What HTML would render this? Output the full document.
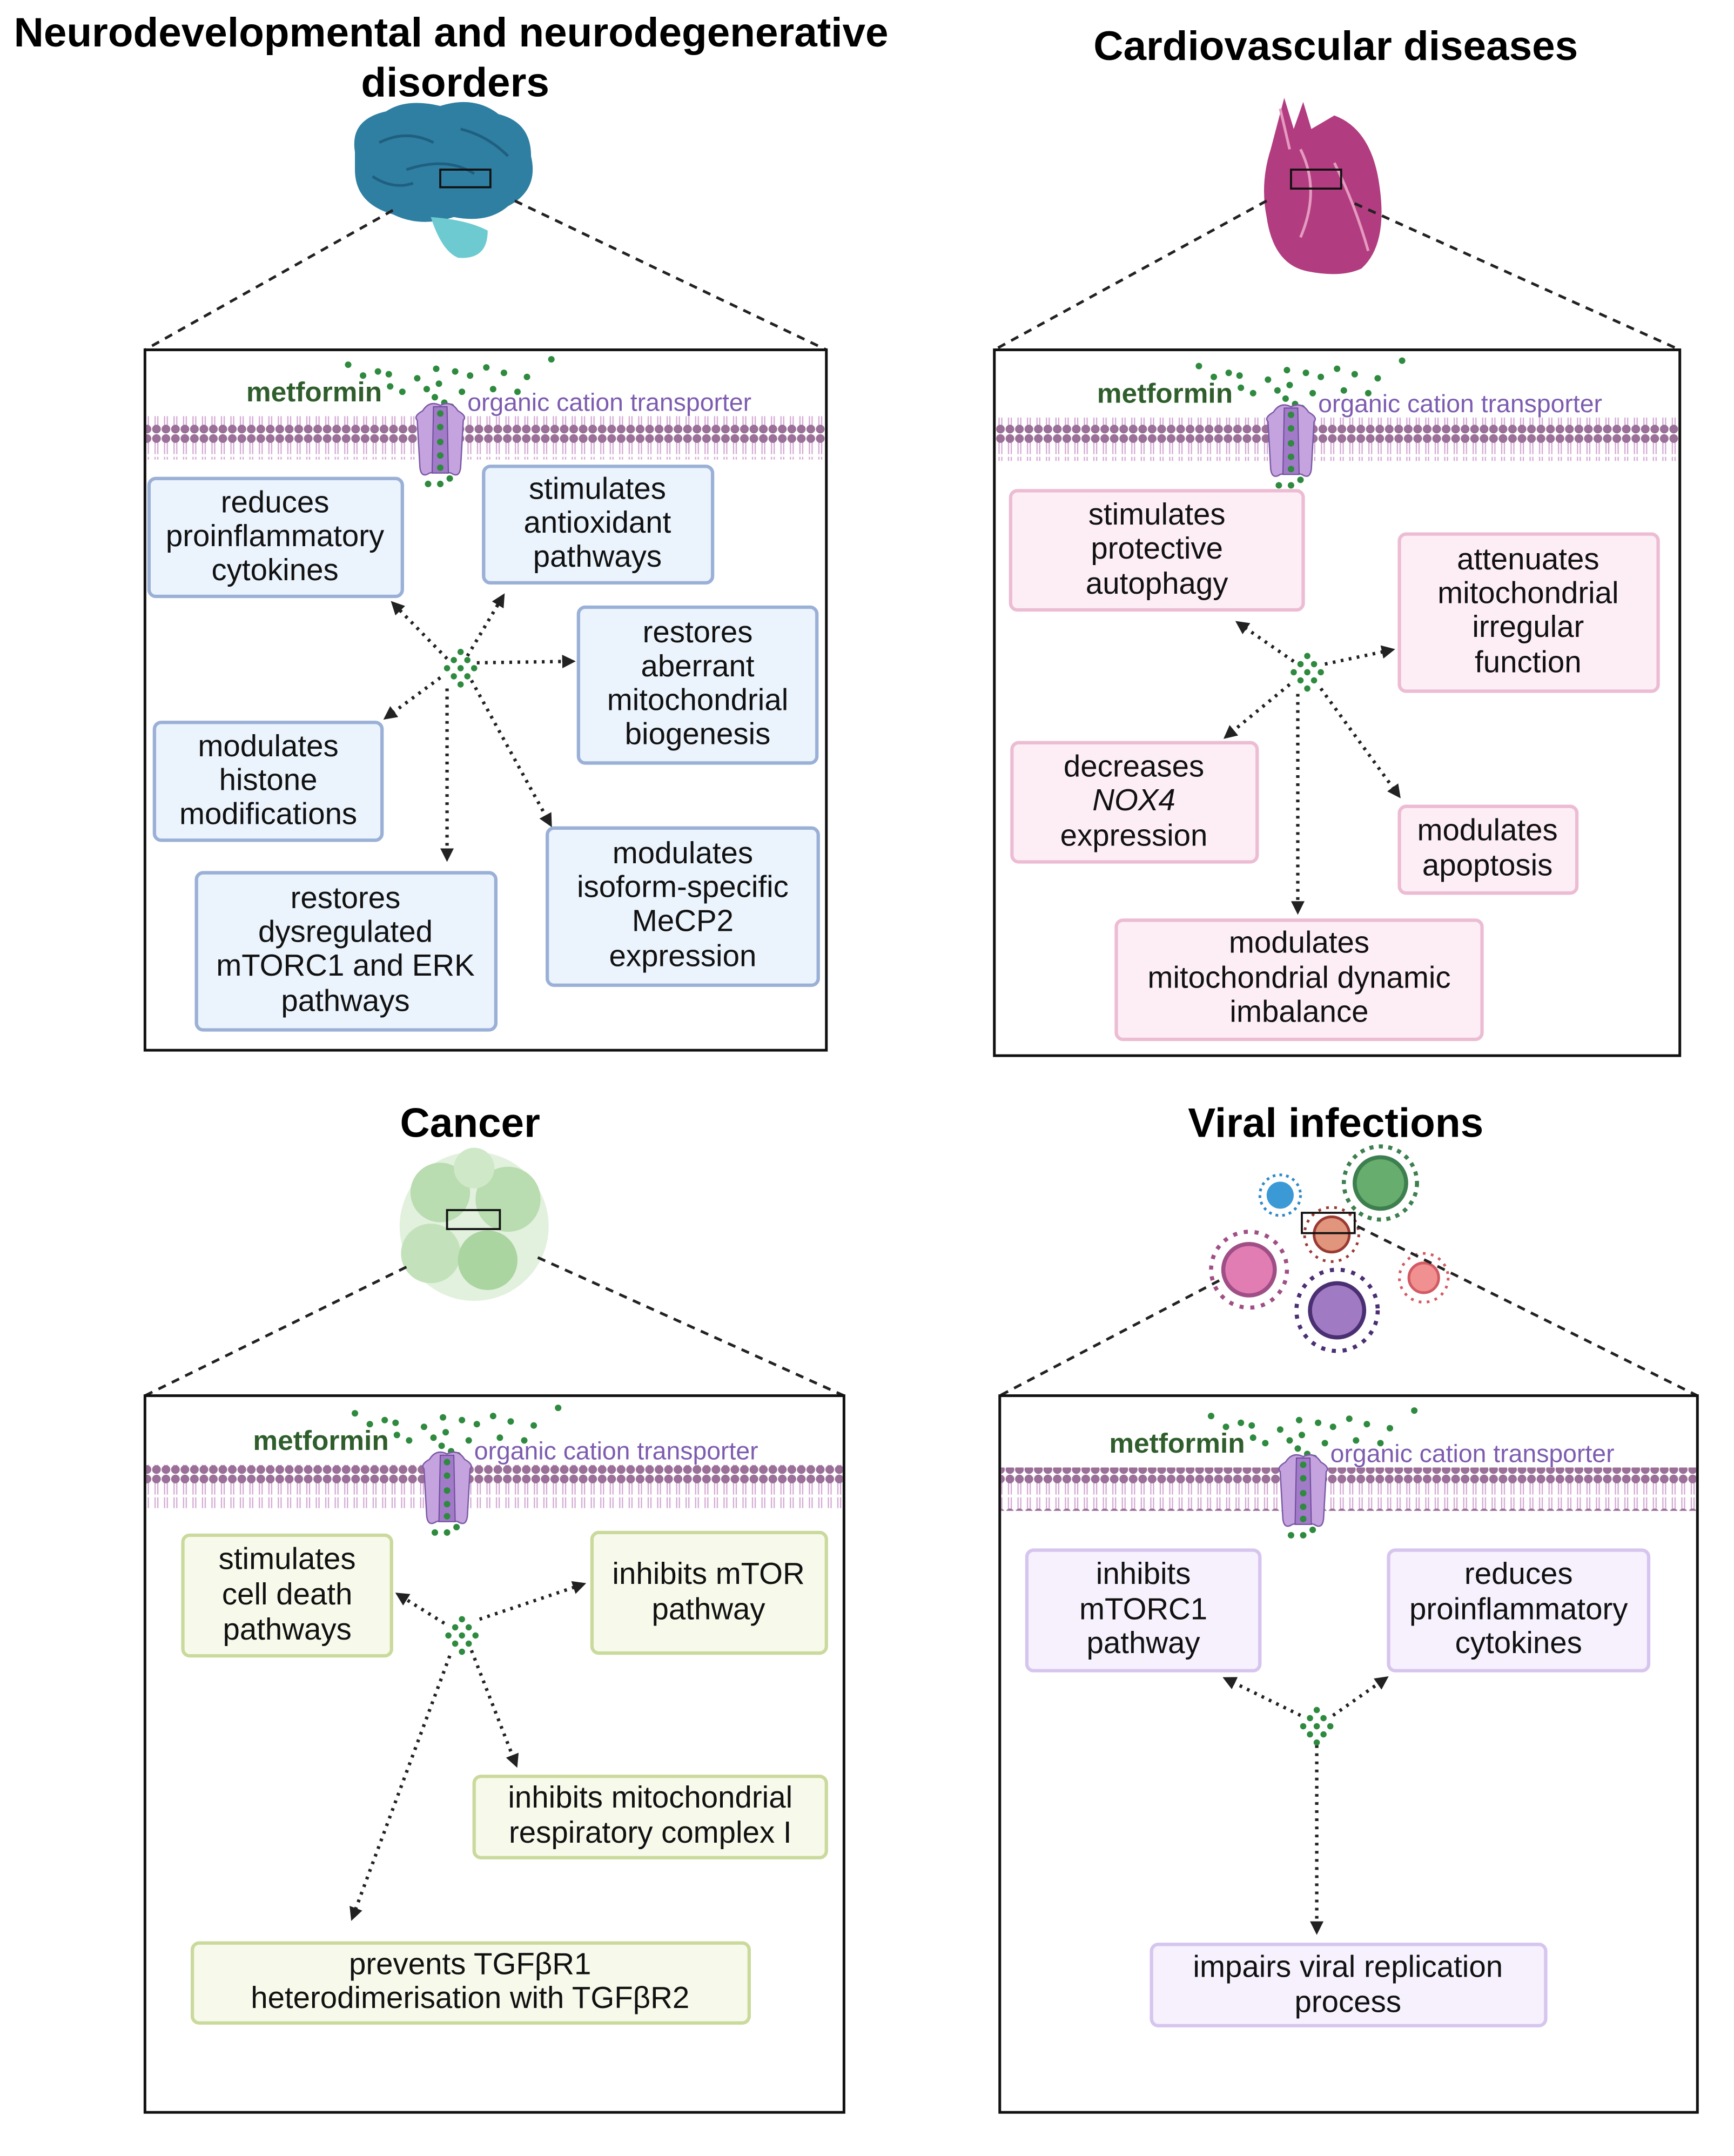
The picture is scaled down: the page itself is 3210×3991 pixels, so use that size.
<!DOCTYPE html>
<html><head><meta charset="utf-8"><style>html,body{margin:0;padding:0;background:#fff}svg{display:block}</style></head>
<body>
<svg xmlns="http://www.w3.org/2000/svg" width="3210" height="3991" viewBox="0 0 1280 1591" font-family="Liberation Sans, sans-serif">
<defs>
<pattern id="mem" x="0" y="0" width="7" height="32" patternUnits="userSpaceOnUse">
<line x1="2.5" y1="4" x2="2.5" y2="15" stroke="#d3a8d3" stroke-width="0.9"/>
<line x1="4.5" y1="4" x2="4.5" y2="15" stroke="#d3a8d3" stroke-width="0.9"/>
<line x1="2.5" y1="17" x2="2.5" y2="28" stroke="#d3a8d3" stroke-width="0.9"/>
<line x1="4.5" y1="17" x2="4.5" y2="28" stroke="#d3a8d3" stroke-width="0.9"/>
<circle cx="3.5" cy="3.5" r="3.2" fill="#9a6f98"/>
<circle cx="3.5" cy="28.5" r="3.2" fill="#9a6f98"/>
</pattern>
<marker id="ah" markerWidth="10" markerHeight="10" refX="5" refY="5" orient="auto" markerUnits="userSpaceOnUse">
<path d="M0,0 L10,5 L0,10 z" fill="#222"/>
</marker>
<g id="hdr">
<text x="-43" y="-11" text-anchor="end" font-size="20.5" font-weight="bold" fill="#2f5e2c">metformin</text>
<text x="20" y="-4" font-size="18.5" fill="#7d5cb0">organic cation transporter</text>
<g fill="#2e8a3e">
<circle cx="-68" cy="-38" r="2.4"/><circle cx="-57" cy="-30" r="2.4"/><circle cx="-46" cy="-33" r="2.4"/><circle cx="-38" cy="-31" r="2.4"/>
<circle cx="-37" cy="-22" r="2.4"/><circle cx="-28" cy="-18" r="2.4"/><circle cx="-17" cy="-28" r="2.4"/><circle cx="-10" cy="-20" r="2.4"/>
<circle cx="-3" cy="-35" r="2.4"/><circle cx="-1" cy="-24" r="2.4"/><circle cx="-4" cy="-14" r="2.4"/><circle cx="3" cy="-10" r="2.4"/>
<circle cx="8" cy="-7" r="2.4"/><circle cx="-8" cy="-1" r="2.4"/><circle cx="11" cy="-33" r="2.4"/><circle cx="22" cy="-30" r="2.4"/>
<circle cx="16" cy="-18" r="2.4"/><circle cx="34" cy="-36" r="2.4"/><circle cx="39" cy="-20" r="2.4"/><circle cx="47" cy="-32" r="2.4"/>
<circle cx="57" cy="-18" r="2.4"/><circle cx="64" cy="-29" r="2.4"/><circle cx="82" cy="-42" r="2.4"/><circle cx="-9" cy="50" r="2.4"/><circle cx="0" cy="50" r="2.4"/><circle cx="7" cy="46" r="2.4"/>
</g>
<path d="M-13,-4 Q-8,-12 0,-8 Q8,-12 13,-4 Q20,0 17,3 L15,38 Q14,46 8,42 Q0,40 -8,42 Q-14,46 -15,38 L-17,3 Q-20,0 -13,-4 z" fill="#c4a3df" stroke="#7c5aa6" stroke-width="1"/>
<path d="M-5,-7 L5,-7 L6,42 L-6,42 z" fill="#a17ac8" stroke="#6f4c9a" stroke-width="0.8"/>
<g fill="#2e8a3e"><circle cx="0" cy="-2" r="2.4"/><circle cx="0" cy="8" r="2.4"/><circle cx="0" cy="19" r="2.4"/><circle cx="0" cy="29" r="2.4"/><circle cx="0" cy="38" r="2.4"/></g>
</g>
<g id="dots" fill="#2e8a3e">
<circle cx="0" cy="-12" r="2.3"/><circle cx="-5" cy="-6" r="2.3"/><circle cx="5" cy="-6" r="2.3"/><circle cx="-10" cy="0" r="2.3"/><circle cx="0" cy="0" r="2.3"/><circle cx="10" cy="0" r="2.3"/><circle cx="-5" cy="6" r="2.3"/><circle cx="5" cy="6" r="2.3"/><circle cx="0" cy="12" r="2.3"/>
</g>
</defs>
<rect width="1280" height="1591" fill="#fff"/>

<g font-weight="bold" font-size="30.5" text-anchor="middle" fill="#000">
<text x="333" y="34">Neurodevelopmental and neurodegenerative</text>
<text x="336" y="71">disorders</text>
<text x="986" y="44">Cardiovascular diseases</text>
<text x="347" y="839">Cancer</text>
<text x="986" y="839">Viral infections</text>
</g>

<g>
<path d="M262,112 Q258,88 285,82 Q300,72 325,78 Q350,70 368,84 Q392,90 392,115 Q398,140 375,152 Q360,165 335,160 Q310,168 290,158 Q262,150 262,125 z" fill="#2f7fa2"/>
<path d="M318,160 Q345,162 360,170 Q360,192 338,190 Q326,185 318,160z" fill="#6ccad0"/>
<path d="M280,105 Q300,95 320,105 M300,125 Q330,115 350,128 M340,95 Q360,100 375,115 M275,130 Q290,140 305,135" stroke="#1f5f80" stroke-width="2" fill="none"/>
<rect x="325" y="125" width="37" height="13" fill="none" stroke="#111" stroke-width="1.5"/>
</g>
<g>
<path d="M948,72 L955,95 L962,75 L968,95 L985,85 Q1012,95 1018,135 Q1025,180 1005,198 Q990,205 965,200 Q940,195 935,160 Q930,135 938,110 Z" fill="#b23c80"/>
<path d="M945,80 L952,110 M960,110 Q975,140 960,175 M985,120 Q1000,150 1010,185" stroke="#e59ac0" stroke-width="2" fill="none"/>
<rect x="953" y="125" width="37" height="14" fill="none" stroke="#111" stroke-width="1.5"/>
</g>
<g>
<circle cx="350" cy="905" r="55" fill="#e2f1dd"/>
<circle cx="325" cy="880" r="22" fill="#b9dcb0"/><circle cx="375" cy="885" r="24" fill="#b9dcb0"/><circle cx="318" cy="925" r="22" fill="#c3e2bb"/><circle cx="360" cy="930" r="22" fill="#aad4a0"/><circle cx="350" cy="862" r="15" fill="#cfe8c8"/>
<rect x="330" y="893" width="39" height="14" fill="none" stroke="#111" stroke-width="1.5"/>
</g>
<g>
<circle cx="945" cy="882" r="15" fill="none" stroke="#2e8ac6" stroke-width="2" stroke-dasharray="2 3"/><circle cx="945" cy="882" r="10" fill="#3b9ad6"/>
<circle cx="1019" cy="873" r="27" fill="none" stroke="#3d7f4e" stroke-width="3" stroke-dasharray="3 4"/><circle cx="1019" cy="873" r="19" fill="#66ad6e" stroke="#3d7f4e" stroke-width="3"/>
<circle cx="983" cy="911" r="20" fill="none" stroke="#9a3a33" stroke-width="2" stroke-dasharray="2 4"/><circle cx="983" cy="911" r="13" fill="#e0957c" stroke="#9a3a33" stroke-width="2"/>
<circle cx="922" cy="937" r="28" fill="none" stroke="#a04f86" stroke-width="3" stroke-dasharray="3 5"/><circle cx="922" cy="937" r="19" fill="#e27db3" stroke="#a04f86" stroke-width="3"/>
<circle cx="987" cy="967" r="30" fill="none" stroke="#4a2f73" stroke-width="3" stroke-dasharray="3 5"/><circle cx="987" cy="967" r="20" fill="#a07bc4" stroke="#4a2f73" stroke-width="3"/>
<circle cx="1051" cy="943" r="18" fill="none" stroke="#d25a62" stroke-width="2" stroke-dasharray="2 4"/><circle cx="1051" cy="943" r="11" fill="#f09090" stroke="#d25a62" stroke-width="2"/>
<rect x="961" y="895" width="39" height="15" fill="none" stroke="#111" stroke-width="1.5"/>
</g>

<g stroke="#222" stroke-width="2" stroke-dasharray="6 5" fill="none">
<line x1="290" y1="155" x2="107" y2="258"/><line x1="380" y1="148" x2="610" y2="258"/>
<line x1="935" y1="148" x2="734" y2="258"/><line x1="1000" y1="150" x2="1240" y2="258"/>
<line x1="300" y1="935" x2="107" y2="1030"/><line x1="397" y1="928" x2="623" y2="1030"/>
<line x1="900" y1="945" x2="738" y2="1030"/><line x1="1002" y1="905" x2="1253" y2="1030"/>
</g>

<g fill="#fff" stroke="#111" stroke-width="2">
<rect x="107" y="258" width="503" height="517"/>
<rect x="734" y="258" width="506" height="521"/>
<rect x="107" y="1030" width="516" height="529"/>
<rect x="738" y="1030" width="515" height="529"/>
</g>
<rect x="108" y="307" width="501" height="32" fill="url(#mem)"/>
<rect x="735" y="308" width="504" height="32" fill="url(#mem)"/>
<rect x="108" y="1081" width="514" height="32" fill="url(#mem)"/>
<rect x="739" y="1083" width="513" height="32" fill="url(#mem)"/>
<use href="#hdr" transform="translate(325,307)"/>
<use href="#hdr" transform="translate(953,308)"/>
<use href="#hdr" transform="translate(330,1081)"/>
<use href="#hdr" transform="translate(962,1083)"/>

<g stroke-width="2.5">
<g fill="#ebf3fd" stroke="#9ab0d6">
<rect x="110" y="353" width="187" height="87" rx="5"/>
<rect x="357" y="344" width="169" height="86" rx="5"/>
<rect x="427" y="448" width="176" height="115" rx="5"/>
<rect x="114" y="533" width="168" height="87" rx="5"/>
<rect x="145" y="644" width="221" height="116" rx="5"/>
<rect x="404" y="611" width="200" height="116" rx="5"/>
</g>
<g fill="#fdeef6" stroke="#ecbcd3">
<rect x="746" y="362" width="216" height="88" rx="5"/>
<rect x="1033" y="394" width="191" height="116" rx="5"/>
<rect x="747" y="548" width="181" height="88" rx="5"/>
<rect x="1033" y="595" width="131" height="64" rx="5"/>
<rect x="824" y="679" width="270" height="88" rx="5"/>
</g>
<g fill="#f7faeb" stroke="#cad99c">
<rect x="135" y="1133" width="154" height="89" rx="5"/>
<rect x="437" y="1131" width="173" height="89" rx="5"/>
<rect x="350" y="1311" width="260" height="60" rx="5"/>
<rect x="142" y="1434" width="411" height="59" rx="5"/>
</g>
<g fill="#f6f1fd" stroke="#d6c5ee">
<rect x="758" y="1144" width="172" height="89" rx="5"/>
<rect x="1025" y="1144" width="192" height="89" rx="5"/>
<rect x="850" y="1435" width="291" height="60" rx="5"/>
</g>
</g>

<g font-size="22.5" text-anchor="middle" fill="#111">
<text x="203" y="378">reduces</text><text x="203" y="403">proinflammatory</text><text x="203" y="428">cytokines</text>
<text x="441" y="368">stimulates</text><text x="441" y="393">antioxidant</text><text x="441" y="418">pathways</text>
<text x="515" y="474">restores</text><text x="515" y="499">aberrant</text><text x="515" y="524">mitochondrial</text><text x="515" y="549">biogenesis</text>
<text x="198" y="558">modulates</text><text x="198" y="583">histone</text><text x="198" y="608">modifications</text>
<text x="255" y="670">restores</text><text x="255" y="695">dysregulated</text><text x="255" y="720">mTORC1 and ERK</text><text x="255" y="746">pathways</text>
<text x="504" y="637">modulates</text><text x="504" y="662">isoform-specific</text><text x="504" y="687">MeCP2</text><text x="504" y="713">expression</text>

<text x="854" y="387">stimulates</text><text x="854" y="412">protective</text><text x="854" y="438">autophagy</text>
<text x="1128" y="420">attenuates</text><text x="1128" y="445">mitochondrial</text><text x="1128" y="470">irregular</text><text x="1128" y="496">function</text>
<text x="837" y="573">decreases</text><text x="837" y="598" font-style="italic">NOX4</text><text x="837" y="624">expression</text>
<text x="1098" y="620">modulates</text><text x="1098" y="646">apoptosis</text>
<text x="959" y="703">modulates</text><text x="959" y="729">mitochondrial dynamic</text><text x="959" y="754">imbalance</text>

<text x="212" y="1158">stimulates</text><text x="212" y="1184">cell death</text><text x="212" y="1210">pathways</text>
<text x="523" y="1169">inhibits mTOR</text><text x="523" y="1195">pathway</text>
<text x="480" y="1334">inhibits mitochondrial</text><text x="480" y="1360">respiratory complex I</text>
<text x="347" y="1457">prevents TGFβR1</text><text x="347" y="1482">heterodimerisation with TGFβR2</text>

<text x="844" y="1169">inhibits</text><text x="844" y="1195">mTORC1</text><text x="844" y="1220">pathway</text>
<text x="1121" y="1169">reduces</text><text x="1121" y="1195">proinflammatory</text><text x="1121" y="1220">cytokines</text>
<text x="995" y="1459">impairs viral replication</text><text x="995" y="1485">process</text>
</g>

<g stroke="#222" stroke-width="2.5" stroke-dasharray="2 4" fill="none" marker-end="url(#ah)">
<line x1="330" y1="486" x2="292" y2="447"/><line x1="345" y1="484" x2="370" y2="442"/><line x1="352" y1="489" x2="420" y2="488"/>
<line x1="325" y1="500" x2="287" y2="528"/><line x1="330" y1="508" x2="330" y2="631"/><line x1="348" y1="502" x2="405" y2="606"/>
<line x1="955" y1="488" x2="916" y2="461"/><line x1="978" y1="490" x2="1025" y2="480"/><line x1="952" y1="505" x2="907" y2="542"/>
<line x1="975" y1="508" x2="1031" y2="585"/><line x1="958" y1="512" x2="958" y2="670"/>
<line x1="328" y1="1198" x2="296" y2="1178"/><line x1="354" y1="1195" x2="428" y2="1170"/><line x1="348" y1="1218" x2="380" y2="1300"/><line x1="332" y1="1222" x2="261" y2="1413"/>
<line x1="960" y1="1266" x2="907" y2="1240"/><line x1="984" y1="1266" x2="1021" y2="1240"/><line x1="972" y1="1288" x2="972" y2="1423"/>
</g>
<use href="#dots" transform="translate(340,493)"/>
<use href="#dots" transform="translate(965,496)"/>
<use href="#dots" transform="translate(341,1207)"/>
<use href="#dots" transform="translate(972,1274)"/>
</svg>
</body></html>
